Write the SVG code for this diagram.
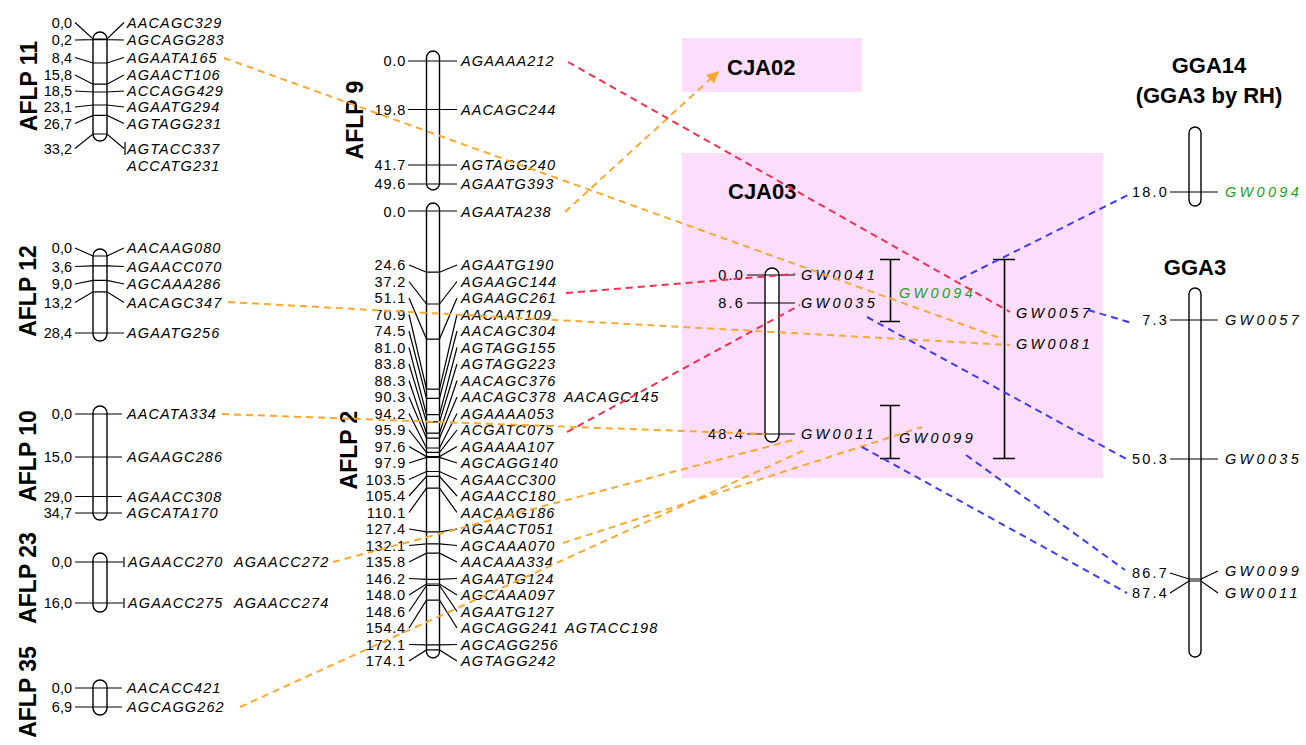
<svg xmlns="http://www.w3.org/2000/svg" width="1306" height="745" viewBox="0 0 1306 745">
<defs>
<style>
text{font-family:"Liberation Sans",Arial,sans-serif;fill:#000}
.t{font-size:23px;font-weight:bold}
.tc{font-size:22px;font-weight:bold}
.n{font-size:14.5px;text-anchor:end}
.nw{font-size:14.5px;letter-spacing:0.8px;text-anchor:end}
.ng{font-size:14.5px;letter-spacing:2.2px;text-anchor:end}
.mk{font-size:14.5px;font-style:italic;letter-spacing:1.1px}
.gw{font-size:14.5px;font-style:italic;letter-spacing:3.3px}
.green{fill:#1e9e1e}
.chr{fill:#fff;stroke:#000;stroke-width:1.4}
.tk{fill:none;stroke:#000;stroke-width:1.2}
.br{fill:none;stroke:#000;stroke-width:1.6}
.box{fill:#fcdefc}
.c{fill:none;stroke-width:2;stroke-dasharray:7 5}
.or{stroke:#f9a830}
.rd{stroke:#f2304e}
.bl{stroke:#3c3cf0}
</style>
<marker id="ah" viewBox="0 0 10 10" refX="9" refY="5" markerWidth="12" markerHeight="12" markerUnits="userSpaceOnUse" orient="auto"><path d="M0,0 L10,5 L0,10 z" fill="#f9a830"/></marker>
</defs>
<rect width="1306" height="745" fill="#fff"/>

<g id="aflp11">
<text class="t" transform="translate(37,86) rotate(-90)" text-anchor="middle">AFLP 11</text>
<rect class="chr" x="93" y="32" width="14" height="109" rx="7"/>
<path class="tk" d="M75,22.5 L93,39 L107,39 L124,22.5 M75,40 L93,39.6 L107,39.6 L124,40 M75,57.5 L93,63 L107,63 L124,57.5 M75,75 L93,84.2 L107,84.2 L124,75 M75,91 L93,92 L107,92 L124,91 M75,107 L93,105 L107,105 L124,107 M75,123.5 L93,115.4 L107,115.4 L124,123.5 M75,148.5 L93,134 L107,134 L124,148.5 M125,142 V155"/>
<text class="n" x="72" y="27.5">0,0</text><text class="n" x="72" y="45">0,2</text><text class="n" x="72" y="62.5">8,4</text><text class="n" x="72" y="80">15,8</text><text class="n" x="72" y="96">18,5</text><text class="n" x="72" y="112">23,1</text><text class="n" x="72" y="128.5">26,7</text><text class="n" x="72" y="153.5">33,2</text>
<text class="mk" x="127" y="27.5">AACAGC329</text><text class="mk" x="127" y="45">AGCAGG283</text><text class="mk" x="127" y="62.5">AGAATA165</text><text class="mk" x="127" y="80">AGAACT106</text><text class="mk" x="127" y="96">ACCAGG429</text><text class="mk" x="127" y="112">AGAATG294</text><text class="mk" x="127" y="128.5">AGTAGG231</text><text class="mk" x="127" y="153.5">AGTACC337</text><text class="mk" x="127" y="171">ACCATG231</text>
</g>

<g id="aflp12">
<text class="t" transform="translate(36,291) rotate(-90)" text-anchor="middle">AFLP 12</text>
<rect class="chr" x="93" y="249" width="14" height="92" rx="7"/>
<path class="tk" d="M75,248 L93,256 L107,256 L124,248 M75,266.5 L93,265.8 L107,265.8 L124,266.5 M75,284 L93,280.4 L107,280.4 L124,284 M75,302.5 L93,291.8 L107,291.8 L124,302.5 M75,333 H124"/>
<text class="n" x="72" y="253">0,0</text><text class="n" x="72" y="271.5">3,6</text><text class="n" x="72" y="289">9,0</text><text class="n" x="72" y="307.5">13,2</text><text class="n" x="72" y="338">28,4</text>
<text class="mk" x="127" y="253">AACAAG080</text><text class="mk" x="127" y="271.5">AGAACC070</text><text class="mk" x="127" y="289">AGCAAA286</text><text class="mk" x="127" y="307.5">AACAGC347</text><text class="mk" x="127" y="338">AGAATG256</text>
</g>

<g id="aflp10">
<text class="t" transform="translate(36,456) rotate(-90)" text-anchor="middle">AFLP 10</text>
<rect class="chr" x="93" y="406" width="14" height="114" rx="7"/>
<path class="tk" d="M75,414 H122 M75,457 H122 M75,496.5 H122 M75,513 H122"/>
<text class="n" x="72" y="419">0,0</text><text class="n" x="72" y="462">15,0</text><text class="n" x="72" y="501.5">29,0</text><text class="n" x="72" y="518">34,7</text>
<text class="mk" x="127" y="419">AACATA334</text><text class="mk" x="127" y="462">AGAAGC286</text><text class="mk" x="127" y="501.5">AGAACC308</text><text class="mk" x="127" y="518">AGCATA170</text>
</g>

<g id="aflp23">
<text class="t" transform="translate(36,578) rotate(-90)" text-anchor="middle">AFLP 23</text>
<rect class="chr" x="93" y="553" width="14" height="59" rx="7"/>
<path class="tk" d="M75,562 H123 M124,557 V567 M75,603 H123 M124,598 V608"/>
<text class="n" x="72" y="567">0,0</text><text class="n" x="72" y="608">16,0</text>
<text class="mk" x="128" y="567">AGAACC270</text><text class="mk" x="234" y="567">AGAACC272</text>
<text class="mk" x="128" y="608">AGAACC275</text><text class="mk" x="234" y="608">AGAACC274</text>
</g>

<g id="aflp35">
<text class="t" transform="translate(36,692) rotate(-90)" text-anchor="middle">AFLP 35</text>
<rect class="chr" x="93" y="680" width="14" height="35" rx="7"/>
<path class="tk" d="M75,688 H122 M75,707 H122"/>
<text class="n" x="72" y="693">0,0</text><text class="n" x="72" y="712">6,9</text>
<text class="mk" x="127" y="693">AACACC421</text><text class="mk" x="127" y="712">AGCAGG262</text>
</g>

<g id="aflp9">
<text class="t" transform="translate(363,120) rotate(-90)" text-anchor="middle">AFLP 9</text>
<rect class="chr" x="426.5" y="51" width="13" height="139" rx="6.5"/>
<path class="tk" d="M408,61 H457 M408,109.5 H457 M408,165 H457 M408,184 H457"/>
<text class="nw" x="406" y="66">0.0</text><text class="nw" x="406" y="114.5">19.8</text><text class="nw" x="406" y="170">41.7</text><text class="nw" x="406" y="189">49.6</text>
<text class="mk" x="461" y="66">AGAAAA212</text><text class="mk" x="461" y="114.5">AACAGC244</text><text class="mk" x="461" y="170">AGTAGG240</text><text class="mk" x="461" y="189">AGAATG393</text>
</g>

<g id="aflp2">
<text class="t" transform="translate(357,450) rotate(-90)" text-anchor="middle">AFLP 2</text>
<rect class="chr" x="426.5" y="203" width="13" height="455" rx="6.5"/>
<path class="tk" d="M408,211 H457
M409,265 L426.5,272.2 H439.5 L457,265
M409,281.5 L426.5,304 H439.5 L457,281.5
M409,298 L426.5,339.1 H439.5 L457,298
M409,314.5 L426.5,389.2 H439.5 L457,314.5
M409,331 L426.5,398.3 H439.5 L457,331
M409,347.5 L426.5,414.7 H439.5 L457,347.5
M409,364 L426.5,421.8 H439.5 L457,364
M409,380.5 L426.5,433.1 H439.5 L457,380.5
M409,397 L426.5,438.2 H439.5 L457,397
M409,413.5 L426.5,448 H439.5 L457,413.5
M409,430 L426.5,452.3 H439.5 L457,430
M409,446.5 L426.5,456.6 H439.5 L457,446.5
M409,463 L426.5,457.4 H439.5 L457,463
M409,479.5 L426.5,471.5 H439.5 L457,479.5
M409,496 L426.5,476.3 H439.5 L457,496
M409,512.5 L426.5,488.2 H439.5 L457,512.5
M409,529 L426.5,531.9 H439.5 L457,529
M409,545.5 L426.5,543.8 H439.5 L457,545.5
M409,562 L426.5,553.2 H439.5 L457,562
M409,578.5 L426.5,579.4 H439.5 L457,578.5
M409,595 L426.5,584 H439.5 L457,595
M409,611.5 L426.5,585.5 H439.5 L457,611.5
M409,628 L426.5,600.2 H439.5 L457,628
M409,644.5 L426.5,644.9 H439.5 L457,644.5
M409,661 L426.5,649.9 H439.5 L457,661"/>
<text class="nw" x="406" y="217">0.0</text>
<text class="nw" x="406" y="270">24.6</text>
<text class="nw" x="406" y="286.5">37.2</text>
<text class="nw" x="406" y="303">51.1</text>
<text class="nw" x="406" y="319.5">70.9</text>
<text class="nw" x="406" y="336">74.5</text>
<text class="nw" x="406" y="352.5">81.0</text>
<text class="nw" x="406" y="369">83.8</text>
<text class="nw" x="406" y="385.5">88.3</text>
<text class="nw" x="406" y="402">90.3</text>
<text class="nw" x="406" y="418.5">94.2</text>
<text class="nw" x="406" y="435">95.9</text>
<text class="nw" x="406" y="451.5">97.6</text>
<text class="nw" x="406" y="468">97.9</text>
<text class="nw" x="406" y="484.5">103.5</text>
<text class="nw" x="406" y="501">105.4</text>
<text class="nw" x="406" y="517.5">110.1</text>
<text class="nw" x="406" y="534">127.4</text>
<text class="nw" x="406" y="550.5">132.1</text>
<text class="nw" x="406" y="567">135.8</text>
<text class="nw" x="406" y="583.5">146.2</text>
<text class="nw" x="406" y="600">148.0</text>
<text class="nw" x="406" y="616.5">148.6</text>
<text class="nw" x="406" y="633">154.4</text>
<text class="nw" x="406" y="649.5">172.1</text>
<text class="nw" x="406" y="666">174.1</text>
<text class="mk" x="461" y="217">AGAATA238</text>
<text class="mk" x="461" y="270">AGAATG190</text>
<text class="mk" x="461" y="286.5">AGAAGC144</text>
<text class="mk" x="461" y="303">AGAAGC261</text>
<text class="mk" x="461" y="319.5">AACAAT109</text>
<text class="mk" x="461" y="336">AACAGC304</text>
<text class="mk" x="461" y="352.5">AGTAGG155</text>
<text class="mk" x="461" y="369">AGTAGG223</text>
<text class="mk" x="461" y="385.5">AACAGC376</text>
<text class="mk" x="461" y="402">AACAGC378</text><text class="mk" x="564" y="402">AACAGC145</text>
<text class="mk" x="461" y="418.5">AGAAAA053</text>
<text class="mk" x="461" y="435">ACGATC075</text>
<text class="mk" x="461" y="451.5">AGAAAA107</text>
<text class="mk" x="461" y="468">AGCAGG140</text>
<text class="mk" x="461" y="484.5">AGAACC300</text>
<text class="mk" x="461" y="501">AGAACC180</text>
<text class="mk" x="461" y="517.5">AACAAG186</text>
<text class="mk" x="461" y="534">AGAACT051</text>
<text class="mk" x="461" y="550.5">AGCAAA070</text>
<text class="mk" x="461" y="567">AACAAA334</text>
<text class="mk" x="461" y="583.5">AGAATG124</text>
<text class="mk" x="461" y="600">AGCAAA097</text>
<text class="mk" x="461" y="616.5">AGAATG127</text>
<text class="mk" x="461" y="633">AGCAGG241</text><text class="mk" x="565" y="633">AGTACC198</text>
<text class="mk" x="461" y="649.5">AGCAGG256</text>
<text class="mk" x="461" y="666">AGTAGG242</text>
</g>

<g id="cja02">
<rect class="box" x="682" y="38" width="180" height="54"/>
<text class="tc" x="727" y="75">CJA02</text>
</g>

<g id="cja03">
<rect class="box" x="682" y="153" width="421" height="325"/>
<text class="tc" x="728" y="199">CJA03</text>
<rect class="chr" x="765" y="268" width="14" height="174" rx="7"/>
<path class="tk" d="M747,275 H795 M747,303 H795 M747,434 H795"/>
<text class="ng" x="745" y="280">0.0</text><text class="ng" x="745" y="308">8.6</text><text class="ng" x="745" y="439">48.4</text>
<text class="gw" x="801" y="280">GW0041</text><text class="gw" x="801" y="308">GW0035</text><text class="gw" x="801" y="439">GW0011</text>
<path class="br" d="M880,259.5 H900 M890.5,259.5 V321.5 M880,321.5 H900 M880,405.5 H900 M890.5,405.5 V458.5 M880,458.5 H900 M993,259.5 H1015 M1004.5,259.5 V458.5 M993,458.5 H1015"/>
<text class="gw green" x="899" y="298">GW0094</text>
<text class="gw" x="899" y="443">GW0099</text>
<text class="gw" x="1016" y="318">GW0057</text>
<text class="gw" x="1016" y="349">GW0081</text>
</g>

<g id="gga14">
<text class="tc" x="1209" y="73" text-anchor="middle">GGA14</text>
<text class="tc" x="1209" y="103" text-anchor="middle">(GGA3 by RH)</text>
<rect class="chr" x="1189" y="127" width="12" height="79" rx="6"/>
<path class="tk" d="M1170,192 H1218"/>
<text class="ng" x="1169" y="197">18.0</text>
<text class="gw green" x="1225" y="197">GW0094</text>
</g>

<g id="gga3">
<text class="tc" x="1195" y="275" text-anchor="middle">GGA3</text>
<rect class="chr" x="1189" y="288" width="12" height="369" rx="6"/>
<path class="tk" d="M1170,320 H1218 M1170,459 H1218 M1170,573 L1189,579 H1201 L1218,571 M1170,593 L1189,581 H1201 L1218,593"/>
<text class="ng" x="1169" y="325">7.3</text><text class="ng" x="1169" y="464">50.3</text><text class="ng" x="1169" y="578">86.7</text><text class="ng" x="1169" y="598">87.4</text>
<text class="gw" x="1225" y="325">GW0057</text><text class="gw" x="1225" y="464">GW0035</text><text class="gw" x="1225" y="576">GW0099</text><text class="gw" x="1225" y="598">GW0011</text>
</g>

<g id="connectors">
<path class="c or" d="M224,58 L1000,338"/>
<path class="c or" d="M228,302 L1010,345"/>
<path class="c or" d="M222,414 L765,434"/>
<path class="c or" d="M333,562 L793,440"/>
<path class="c or" d="M240,707 L807,449"/>
<path class="c or" d="M563,543 L922,427"/>
<path class="c or" d="M565,212 L718,72" marker-end="url(#ah)"/>
<path class="c rd" d="M568,62 L1010,312"/>
<path class="c rd" d="M566,293 L795,274"/>
<path class="c rd" d="M567,432 L800,305"/>
<path class="c bl" d="M960,279 L1130,194"/>
<path class="c bl" d="M1088,310 L1132,323"/>
<path class="c bl" d="M867,317 L1130,461"/>
<path class="c bl" d="M862,447 L1127,593"/>
<path class="c bl" d="M966,455 L1125,570"/>
</g>
</svg>
